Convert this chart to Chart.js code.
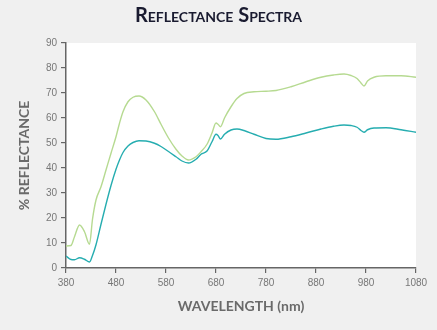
<!DOCTYPE html>
<html>
<head>
<meta charset="utf-8">
<script src="https://cdn.jsdelivr.net/npm/chart.js@4/dist/chart.umd.min.js"></script>
<style>
  html, body { margin: 0; padding: 0; background: #f0f0f0; }
  #wrap { width: 437px; height: 330px; }
</style>
</head>
<body>
<div id="wrap"><canvas id="c" width="437" height="330"></canvas></div>
<script>
const wavelengths = [380, 390, 397, 407, 417, 427, 433, 440, 450, 460, 470, 480, 487, 494, 504, 514, 526, 540, 557, 570, 585, 600, 612, 625, 640, 650, 662, 672, 680, 684, 689, 697, 710, 722, 736, 756, 780, 800, 830, 860, 890, 915, 936, 950, 962, 970, 976, 983, 996, 1020, 1050, 1080];
const greenSeries = [8.8, 9.0, 12.5, 17.2, 14.5, 9.5, 19.5, 27.2, 32.5, 39.2, 45.9, 52.5, 57.9, 62.5, 66.5, 68.3, 68.8, 67.2, 62.5, 57.5, 52, 47.5, 44.8, 43.2, 44.5, 46.5, 49.5, 54, 58, 57.5, 56.5, 60, 64.5, 67.8, 69.8, 70.5, 70.7, 71, 72.5, 74.5, 76.3, 77.2, 77.6, 77, 75.8, 74, 72.8, 74.8, 76.3, 76.9, 76.9, 76.3];
const tealSeries = [4.8, 3.4, 3.3, 4.1, 3.5, 2.4, 5.0, 9.3, 17.5, 25.5, 33, 39.5, 43.2, 46.2, 48.8, 50.2, 50.9, 50.8, 49.9, 48.6, 46.6, 44.5, 42.8, 42, 43.5, 45.5, 46.8, 50.5, 53.5, 53, 51.6, 53.5, 55.2, 55.6, 55, 53.5, 51.8, 51.5, 52.5, 54, 55.6, 56.7, 57.2, 57, 56.3, 55, 54.3, 55.3, 56, 56.1, 55.3, 54.3];
const xTicks = [380, 480, 580, 680, 780, 880, 980, 1080];
const yTicks = [0, 10, 20, 30, 40, 50, 60, 70, 80, 90];
const titleText = 'Reflectance Spectra';
const xTitle = 'WAVELENGTH (nm)';
const yTitle = '% REFLECTANCE';

const bgPlugin = {
  id: 'bg',
  beforeDraw(chart) {
    const ctx = chart.ctx, a = chart.chartArea;
    ctx.save();
    ctx.fillStyle = '#f0f0f0';
    ctx.fillRect(0, 0, chart.width, chart.height);
    ctx.fillStyle = '#ffffff';
    ctx.fillRect(a.left, a.top, a.right - a.left, a.bottom - a.top);
    ctx.restore();
  }
};

const toPts = (arr) => wavelengths.map((w, i) => ({ x: w, y: arr[i] }));

new Chart(document.getElementById('c'), {
  type: 'line',
  data: {
    datasets: [
      { label: 'A', data: toPts(greenSeries), borderColor: '#b6da91', borderWidth: 1.4, pointRadius: 0, cubicInterpolationMode: 'monotone', fill: false },
      { label: 'B', data: toPts(tealSeries), borderColor: '#26adb0', borderWidth: 1.4, pointRadius: 0, cubicInterpolationMode: 'monotone', fill: false }
    ]
  },
  options: {
    responsive: false,
    animation: false,
    devicePixelRatio: 1,
    layout: { padding: { left: 0, right: 0, top: 0, bottom: 0 } },
    plugins: {
      legend: { display: false },
      tooltip: { enabled: false },
      title: {
        display: true,
        text: titleText,
        color: '#1a1b30',
        font: { family: 'Lato', size: 20, weight: 'small-caps bold' },
        padding: { top: 4, bottom: 15 }
      }
    },
    scales: {
      x: {
        type: 'linear',
        min: 380, max: 1080,
        afterBuildTicks: (s) => { s.ticks = xTicks.map(v => ({ value: v })); },
        afterFit: (s) => { s.height = 62; },
        grid: { drawOnChartArea: false, drawTicks: true, tickLength: 5, color: '#666666', lineWidth: 1.2 },
        border: { color: '#666666', width: 1.5 },
        ticks: { color: '#777777', font: { family: 'Liberation Sans', size: 10 }, padding: 4, maxRotation: 0, callback: (v) => String(v) },
        title: { display: true, text: xTitle, color: '#6a6a6a', font: { family: 'Lato', size: 14, weight: 'bold' }, padding: { top: 0, bottom: 15 } }
      },
      y: {
        min: 0, max: 90,
        afterBuildTicks: (s) => { s.ticks = yTicks.map(v => ({ value: v })); },
        afterFit: (s) => { s.width = 66; },
        grid: { drawOnChartArea: false, drawTicks: true, tickLength: 5, color: '#666666', lineWidth: 1.2 },
        border: { color: '#666666', width: 1.5 },
        ticks: { color: '#777777', font: { family: 'Liberation Sans', size: 10 }, padding: 4, callback: (v) => String(v) },
        title: { display: true, text: yTitle, color: '#6a6a6a', font: { family: 'Lato', size: 14, weight: 'bold' }, padding: { top: 16, bottom: 0 } }
      },
      yRight: {
        position: 'right',
        min: 0, max: 90,
        afterFit: (s) => { s.width = 21; },
        grid: { display: false },
        border: { display: false },
        ticks: { display: false },
        title: { display: false }
      }
    }
  },
  plugins: [bgPlugin]
});
</script>
</body>
</html>
